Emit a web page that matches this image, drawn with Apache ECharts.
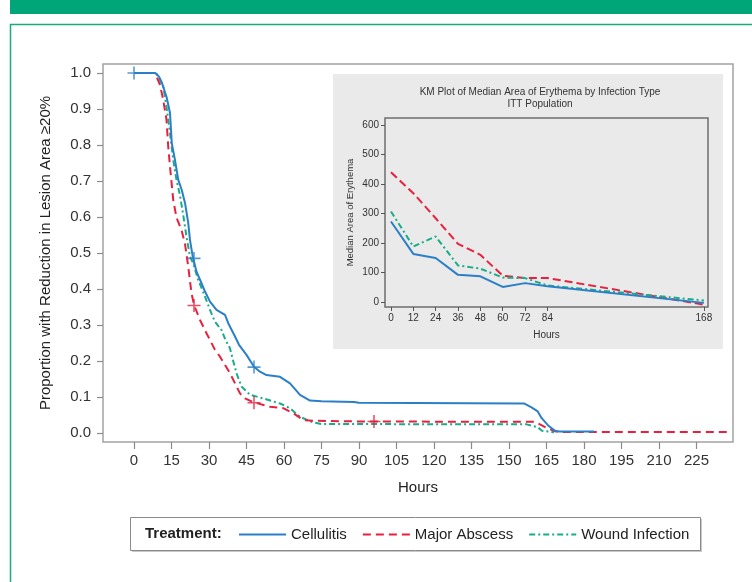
<!DOCTYPE html>
<html lang="en">
<head>
    <meta charset="UTF-8">
    <title>KM plot - reduction in lesion area</title>
    <script src="https://cdn.jsdelivr.net/npm/echarts@6/dist/echarts.min.js"></script>
    <style type="text/css">
        html, body { margin: 0; padding: 0; background: #fff; }
        #main { width: 752px; height: 582px; }
    </style>
</head>
<body>
    <div id="main"></div>
    <script>
        // main KM curves (hours, proportion)
        var cellHours = [0, 8.5, 10, 11, 13, 14.4, 15.1, 16.4, 17.7, 19.1, 20.4, 21.7, 22.4, 23.5, 25, 27, 28.4, 30.4, 33, 36.4, 37.7, 40.4, 42, 45, 48, 50, 53, 58.4, 62.4, 66.4, 70.4, 75, 88, 90, 156, 159, 161.5, 163, 165.8, 168.4, 170, 184];
        var cellProp  = [1.0, 1.0, 0.99, 0.976, 0.934, 0.889, 0.806, 0.758, 0.703, 0.675, 0.639, 0.583, 0.536, 0.49, 0.448, 0.416, 0.393, 0.365, 0.342, 0.328, 0.305, 0.268, 0.245, 0.217, 0.184, 0.172, 0.161, 0.156, 0.138, 0.106, 0.09, 0.088, 0.086, 0.084, 0.082, 0.071, 0.06, 0.042, 0.02, 0.006, 0.004, 0.004];

        var absHours = [0, 8.4, 10.4, 11.7, 13, 13.7, 14.4, 15.7, 17, 19, 20.4, 21.7, 23, 24.1, 26.4, 29, 32.4, 34.4, 38.4, 42.4, 44.4, 48, 54.4, 59.7, 63.7, 67.7, 71.7, 90, 160, 161.5, 165, 168.4, 170, 239];
        var absProp  = [1.0, 1.0, 0.967, 0.925, 0.87, 0.795, 0.74, 0.647, 0.598, 0.564, 0.525, 0.462, 0.388, 0.354, 0.314, 0.277, 0.231, 0.212, 0.166, 0.11, 0.096, 0.085, 0.073, 0.069, 0.055, 0.036, 0.034, 0.032, 0.031, 0.027, 0.014, 0.005, 0.003, 0.003];

        var woundHours = [0, 8.9, 11.7, 13, 14.4, 15.7, 17, 18.4, 19.7, 21, 22.4, 23.7, 25.7, 28.4, 30.4, 32.4, 35, 36.5, 38.4, 39.5, 41, 43, 46.4, 51.7, 58.4, 62.4, 66.4, 71, 75, 157, 161.5, 163.2, 168];
        var woundProp  = [1.0, 1.0, 0.962, 0.906, 0.833, 0.758, 0.703, 0.66, 0.605, 0.545, 0.49, 0.471, 0.425, 0.379, 0.342, 0.309, 0.286, 0.26, 0.235, 0.205, 0.166, 0.129, 0.106, 0.096, 0.082, 0.069, 0.045, 0.031, 0.025, 0.024, 0.016, 0.006, 0.002];

        // censored observations (+)
        var cellCensorHours = [0, 24, 48];
        var cellCensorProp  = [1.0, 0.485, 0.183];
        var absCensorHours  = [24, 48, 96];
        var absCensorProp   = [0.354, 0.084, 0.032];

        var hourTicks = [0, 15, 30, 45, 60, 75, 90, 105, 120, 135, 150, 165, 180, 195, 210, 225];
        var propTicks = [0, 0.1, 0.2, 0.3, 0.4, 0.5, 0.6, 0.7, 0.8, 0.9, 1.0];

        // inset: median area of erythema
        var insetHours = [0, 12, 24, 36, 48, 60, 72, 84, 168];
        var insetCell  = [273, 163, 149, 92, 87, 51, 64, 53, -3];
        var insetAbs   = [440, 369, 284, 197, 160, 89, 81, 81, -9];
        var insetWound = [307, 188, 222, 124, 113, 83, 81, 56, 5];
        var insetAreaTicks = [0, 100, 200, 300, 400, 500, 600];

        var names = ['Cellulitis', 'Major Abscess', 'Wound Infection'];
        var colors = ['#2b7fc8', '#e8203f', '#17ad89'];

        function pairs(xs, ys) {
            return xs.map(function (x, i) { return [x, ys[i]]; });
        }

        var plus = 'path://M4.4,0h1.2v4.4h4.4v1.2h-4.4v4.4h-1.2v-4.4h-4.4v-1.2h4.4z';
        var fonts = '"Liberation Sans", Arial, Helvetica, sans-serif';

        var myChart = echarts.init(document.getElementById('main'));
        var option = {
            animation: false,
            textStyle: { fontFamily: fonts, color: '#222' },
            graphic: [
                // green page header and frame
                { type: 'rect', z: -10, shape: { x: 10, y: 0, width: 742, height: 14 }, style: { fill: '#00a678' } },
                { type: 'polyline', z: -10, shape: { points: [[10.5, 582], [10.5, 24.5], [752, 24.5]] }, style: { stroke: '#1aaa7e', lineWidth: 1.5, fill: null } },
                // inset panel
                { type: 'rect', z: -10, shape: { x: 333, y: 74, width: 390, height: 275 }, style: { fill: '#e9eae9' } },
                { type: 'text', z: 5, style: { x: 540, y: 92, text: 'KM Plot of Median Area of Erythema by Infection Type', textAlign: 'center', textVerticalAlign: 'middle', font: '10px ' + fonts, fill: '#333' } },
                { type: 'text', z: 5, style: { x: 540, y: 104, text: 'ITT Population', textAlign: 'center', textVerticalAlign: 'middle', font: '10px ' + fonts, fill: '#333' } },
                // legend box
                { type: 'rect', z: -10, shape: { x: 132, y: 519, width: 570, height: 33 }, style: { fill: '#c8c8c8' } },
                { type: 'rect', z: -9, shape: { x: 130.5, y: 517.5, width: 570, height: 33 }, style: { fill: '#fff', stroke: '#8a8a8a', lineWidth: 1 } },
                { type: 'text', z: 5, style: { x: 145, y: 534, text: 'Treatment:', textVerticalAlign: 'middle', font: 'bold 15px ' + fonts, fill: '#222' } }
            ],
            legend: {
                data: names,
                left: 238,
                top: 527,
                itemWidth: 47,
                itemHeight: 14,
                itemGap: 15,
                padding: 0,
                itemStyle: { opacity: 0 },
                textStyle: { fontSize: 15, color: '#222' }
            },
            grid: [
                { left: 103, right: 19, top: 64, bottom: 140, show: true, borderColor: '#a3a3a3', borderWidth: 1.5, backgroundColor: 'transparent' },
                { left: 385, right: 44, top: 118, bottom: 275, show: true, borderColor: '#6e6e6e', borderWidth: 1.5, backgroundColor: 'transparent' }
            ],
            xAxis: [
                {
                    type: 'value', gridIndex: 0, min: -12.4, max: 239.6,
                    name: 'Hours', nameLocation: 'middle', nameGap: 38,
                    nameTextStyle: { fontSize: 15, color: '#222' },
                    axisLine: { show: false, onZero: false },
                    axisTick: { show: true, length: 7, customValues: hourTicks, lineStyle: { color: '#8a8a8a', width: 1.2 } },
                    axisLabel: { customValues: hourTicks, fontSize: 15, color: '#333', margin: 11 },
                    splitLine: { show: false }
                },
                {
                    type: 'value', gridIndex: 1, min: -3.2, max: 170.2,
                    name: 'Hours', nameLocation: 'middle', nameGap: 23,
                    nameTextStyle: { fontSize: 10, color: '#333' },
                    axisLine: { show: false, onZero: false },
                    axisTick: { show: true, length: 4, customValues: insetHours, lineStyle: { color: '#555' } },
                    axisLabel: { customValues: insetHours, fontSize: 10, color: '#333', margin: 6 },
                    splitLine: { show: false }
                }
            ],
            yAxis: [
                {
                    type: 'value', gridIndex: 0, min: -0.025, max: 1.025,
                    name: 'Proportion with Reduction in Lesion Area \u226520%', nameLocation: 'middle', nameGap: 50,
                    nameTextStyle: { fontSize: 15, color: '#222' },
                    axisLine: { show: false, onZero: false },
                    axisTick: { show: true, length: 6, customValues: propTicks, lineStyle: { color: '#8a8a8a', width: 1.2 } },
                    axisLabel: { customValues: propTicks, fontSize: 15, color: '#333', margin: 12,
                        formatter: function (v) { return v.toFixed(1); } },
                    splitLine: { show: false }
                },
                {
                    type: 'value', gridIndex: 1, min: -17, max: 624,
                    name: 'Median Area of Erythema', nameLocation: 'middle', nameGap: 30,
                    nameTextStyle: { fontSize: 9.5, color: '#333' },
                    axisLine: { show: false, onZero: false },
                    axisTick: { show: true, length: 4, customValues: insetAreaTicks, lineStyle: { color: '#555' } },
                    axisLabel: { customValues: insetAreaTicks, fontSize: 10, color: '#333', margin: 6 },
                    splitLine: { show: false }
                }
            ],
            series: [
                { name: names[0], type: 'line', data: pairs(cellHours, cellProp), symbol: 'none', color: colors[0],
                  lineStyle: { width: 2, color: colors[0] }, z: 4 },
                { name: names[1], type: 'line', data: pairs(absHours, absProp), symbol: 'none', color: colors[1],
                  lineStyle: { width: 2, color: colors[1], type: [8, 5] }, z: 3 },
                { name: names[2], type: 'line', data: pairs(woundHours, woundProp), symbol: 'none', color: colors[2],
                  lineStyle: { width: 2, color: colors[2], type: [6, 3, 2, 3] }, z: 2 },
                { name: 'Cellulitis censored', type: 'scatter', data: pairs(cellCensorHours, cellCensorProp),
                  symbol: plus, symbolSize: 13, itemStyle: { color: colors[0] }, z: 5 },
                { name: 'Major Abscess censored', type: 'scatter', data: pairs(absCensorHours, absCensorProp),
                  symbol: plus, symbolSize: 13, itemStyle: { color: colors[1] }, z: 5 },
                // inset
                { name: 'Cellulitis median', type: 'line', xAxisIndex: 1, yAxisIndex: 1, data: pairs(insetHours, insetCell),
                  symbol: 'none', lineStyle: { width: 2, color: colors[0] }, z: 4 },
                { name: 'Major Abscess median', type: 'line', xAxisIndex: 1, yAxisIndex: 1, data: pairs(insetHours, insetAbs),
                  symbol: 'none', lineStyle: { width: 2, color: colors[1], type: [8, 4] }, z: 3 },
                { name: 'Wound Infection median', type: 'line', xAxisIndex: 1, yAxisIndex: 1, data: pairs(insetHours, insetWound),
                  symbol: 'none', lineStyle: { width: 2, color: colors[2], type: [6, 3, 2, 3] }, z: 3 }
            ]
        };
        myChart.setOption(option);
    </script>
</body>
</html>
